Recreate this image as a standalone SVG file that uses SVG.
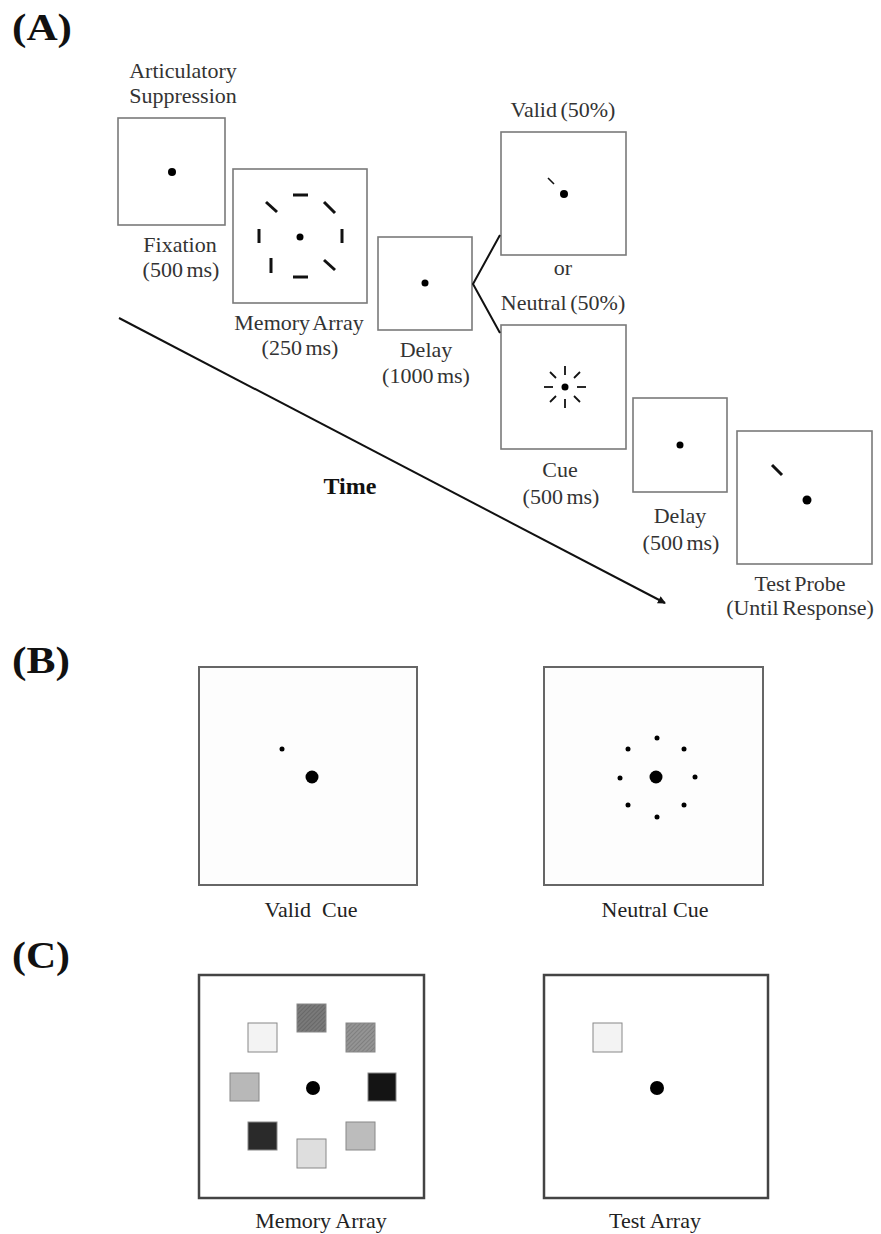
<svg xmlns="http://www.w3.org/2000/svg" width="881" height="1234" viewBox="0 0 881 1234">
<style>
.lbl{font-family:"Liberation Serif","Times New Roman",serif;font-size:22px;fill:#333;text-anchor:middle;word-spacing:-2px}
.lbl2{font-family:"Liberation Serif","Times New Roman",serif;font-size:22px;fill:#222;text-anchor:middle}
.sec{font-family:"Liberation Serif","Times New Roman",serif;font-size:38px;font-weight:bold;fill:#111}
.boxA{fill:#fff;stroke:#7a7a7a;stroke-width:1.6}
.boxB{fill:#fdfdfd;stroke:#666;stroke-width:2}
.boxC{fill:#fff;stroke:#444;stroke-width:2.5}
.bar{stroke:#111;stroke-width:3;stroke-linecap:butt}
.spk{stroke:#111;stroke-width:1.8}
.dot{fill:#000}
.sq{stroke:#888;stroke-width:1}
</style>
<defs>
<marker id="ah" markerWidth="8" markerHeight="8" refX="7" refY="4" orient="auto" markerUnits="userSpaceOnUse">
<path d="M0,0 L8,4 L0,8 z" fill="#111"/>
</marker>
<pattern id="hatch" width="3" height="3" patternUnits="userSpaceOnUse" patternTransform="rotate(45)">
<rect width="3" height="3" fill="#7a7a7a"/>
<line x1="0" y1="0" x2="0" y2="3" stroke="#555" stroke-width="1"/>
</pattern>
<pattern id="hatch2" width="3" height="3" patternUnits="userSpaceOnUse" patternTransform="rotate(45)">
<rect width="3" height="3" fill="#949494"/>
<line x1="0" y1="0" x2="0" y2="3" stroke="#6a6a6a" stroke-width="1"/>
</pattern>
</defs>

<text class="sec" x="12" y="40" textLength="60" lengthAdjust="spacingAndGlyphs">(A)</text>
<text class="sec" x="12" y="673" textLength="58" lengthAdjust="spacingAndGlyphs">(B)</text>
<text class="sec" x="12" y="968" textLength="58" lengthAdjust="spacingAndGlyphs">(C)</text>

<g id="fixation">
<text class="lbl" x="183" y="78">Articulatory</text>
<text class="lbl" x="183" y="103">Suppression</text>
<rect class="boxA" x="118" y="118" width="107" height="107"/>
<circle class="dot" cx="172" cy="172" r="4"/>
<text class="lbl" x="180" y="252">Fixation</text>
<text class="lbl" x="181" y="277">(500 ms)</text>
</g>

<g id="memory-array-a">
<rect class="boxA" x="233" y="169" width="134" height="134"/>
<circle class="dot" cx="300" cy="237" r="3.5"/>
<line class="bar" x1="293" y1="195" x2="308" y2="195"/>
<line class="bar" x1="266" y1="202" x2="277" y2="212"/>
<line class="bar" x1="324" y1="202" x2="335" y2="213"/>
<line class="bar" x1="259" y1="229" x2="259" y2="243"/>
<line class="bar" x1="342" y1="229" x2="342" y2="243"/>
<line class="bar" x1="271" y1="258" x2="271" y2="273"/>
<line class="bar" x1="293" y1="277" x2="308" y2="277"/>
<line class="bar" x1="324" y1="260" x2="335" y2="270"/>
<text class="lbl" x="299" y="330">Memory Array</text>
<text class="lbl" x="300" y="355">(250 ms)</text>
</g>

<g id="delay1">
<rect class="boxA" x="378" y="237" width="94" height="93"/>
<circle class="dot" cx="425" cy="283" r="3.5"/>
<text class="lbl" x="426" y="357">Delay</text>
<text class="lbl" x="426" y="383">(1000 ms)</text>
</g>

<g id="valid-cue-a">
<text class="lbl" x="563" y="117">Valid (50%)</text>
<rect class="boxA" x="501" y="132" width="125" height="123"/>
<line x1="548" y1="178" x2="554" y2="184" stroke="#111" stroke-width="1.6"/>
<circle class="dot" cx="564" cy="194" r="4"/>
<text class="lbl" x="563" y="275">or</text>
</g>

<g id="neutral-cue-a">
<text class="lbl" x="563" y="310">Neutral (50%)</text>
<rect class="boxA" x="501" y="325" width="125" height="124"/>
<circle class="dot" cx="565" cy="387" r="3.5"/>
<g transform="translate(565 387)">
<line class="spk" x1="0" y1="-12" x2="0" y2="-21"/>
<line class="spk" x1="0" y1="12" x2="0" y2="21"/>
<line class="spk" x1="-12" y1="0" x2="-21" y2="0"/>
<line class="spk" x1="12" y1="0" x2="21" y2="0"/>
<line class="spk" x1="-9" y1="-9" x2="-15" y2="-15"/>
<line class="spk" x1="9" y1="-9" x2="15" y2="-15"/>
<line class="spk" x1="-9" y1="9" x2="-15" y2="15"/>
<line class="spk" x1="9" y1="9" x2="15" y2="15"/>
</g>
<text class="lbl" x="560" y="477">Cue</text>
<text class="lbl" x="561" y="504">(500 ms)</text>
</g>

<g id="delay2">
<rect class="boxA" x="633" y="398" width="94" height="94"/>
<circle class="dot" cx="680" cy="445" r="3.5"/>
<text class="lbl" x="680" y="523">Delay</text>
<text class="lbl" x="681" y="550">(500 ms)</text>
</g>

<g id="test-probe">
<rect class="boxA" x="737" y="431" width="135" height="133"/>
<line class="bar" x1="772" y1="465" x2="782" y2="475"/>
<circle class="dot" cx="807" cy="500" r="4.5"/>
<text class="lbl" x="800" y="591">Test Probe</text>
<text class="lbl" x="800" y="615">(Until Response)</text>
</g>

<g id="connectors">
<polyline points="500,235 473,284 500,333" fill="none" stroke="#111" stroke-width="2"/>
<line x1="119" y1="318" x2="665" y2="603" stroke="#111" stroke-width="2" marker-end="url(#ah)"/>
</g>
<text x="350" y="494" font-family="Liberation Serif, Times New Roman, serif" font-size="24" font-weight="bold" fill="#111" text-anchor="middle">Time</text>

<g id="valid-cue-b">
<rect class="boxB" x="199" y="667" width="218" height="218"/>
<circle class="dot" cx="282" cy="749" r="2.5"/>
<circle class="dot" cx="312" cy="777" r="6.5"/>
<text class="lbl2" x="311" y="917" xml:space="preserve">Valid  Cue</text>
</g>

<g id="neutral-cue-b">
<rect class="boxB" x="544" y="667" width="219" height="218"/>
<circle class="dot" cx="656" cy="777" r="6.5"/>
<circle class="dot" cx="657" cy="738" r="2.5"/>
<circle class="dot" cx="684" cy="749" r="2.5"/>
<circle class="dot" cx="695" cy="777" r="2.5"/>
<circle class="dot" cx="684" cy="805" r="2.5"/>
<circle class="dot" cx="657" cy="817" r="2.5"/>
<circle class="dot" cx="628" cy="805" r="2.5"/>
<circle class="dot" cx="620" cy="778" r="2.5"/>
<circle class="dot" cx="628" cy="749" r="2.5"/>
<text class="lbl2" x="655" y="917">Neutral Cue</text>
</g>

<g id="memory-array-c">
<rect class="boxC" x="199" y="975" width="225" height="223"/>
<rect class="sq" x="297" y="1004" width="29" height="28" fill="url(#hatch)"/>
<rect class="sq" x="248" y="1023" width="29" height="29" fill="#f3f3f3" stroke="#999"/>
<rect class="sq" x="346" y="1023" width="29" height="29" fill="url(#hatch2)"/>
<rect class="sq" x="230" y="1073" width="29" height="28" fill="#b8b8b8"/>
<rect class="sq" x="368" y="1073" width="28" height="28" fill="#141414" stroke="#333"/>
<rect class="sq" x="248" y="1122" width="29" height="28" fill="#2a2a2a" stroke="#444"/>
<rect class="sq" x="297" y="1139" width="29" height="29" fill="#dedede" stroke="#999"/>
<rect class="sq" x="346" y="1122" width="29" height="28" fill="#bcbcbc" stroke="#999"/>
<circle class="dot" cx="313" cy="1088" r="7"/>
<text class="lbl2" x="321" y="1228">Memory Array</text>
</g>

<g id="test-array-c">
<rect class="boxC" x="544" y="975" width="224" height="223"/>
<rect class="sq" x="593" y="1023" width="29" height="29" fill="#f3f3f3" stroke="#999"/>
<circle class="dot" cx="657" cy="1088" r="7"/>
<text class="lbl2" x="655" y="1228">Test Array</text>
</g>
</svg>
